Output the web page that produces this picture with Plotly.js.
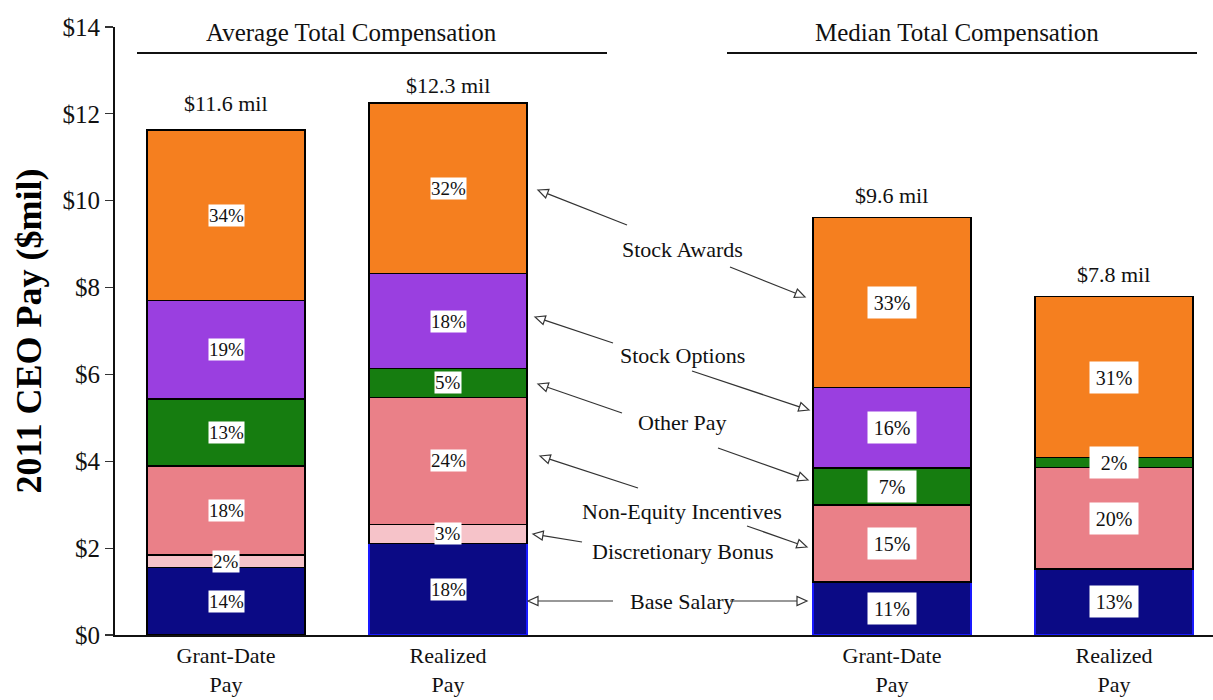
<!DOCTYPE html>
<html><head><meta charset="utf-8">
<script src="https://cdn.plot.ly/plotly-3.0.1.min.js"></script>
<style>html,body{margin:0;padding:0;background:#fff}#chart{width:1213px;height:700px}</style>
</head><body><div id="chart"></div>
<script>
// ---------- DATA ----------
const categories = ['Grant-Date<br>Pay', 'Realized<br>Pay', 'Grant-Date<br>Pay', 'Realized<br>Pay'];
const xPositions = [0, 1, 3, 4];
const componentNames = ['Base Salary', 'Discretionary Bonus', 'Non-Equity Incentives', 'Other Pay', 'Stock Options', 'Stock Awards'];
const baseSalary   = [1.55, 2.11, 1.22, 1.52];
const discBonus    = [0.29, 0.44, 0.00, 0.00];
const nonEquity    = [2.05, 2.92, 1.77, 2.34];
const otherPay     = [1.54, 0.67, 0.85, 0.23];
const stockOptions = [2.27, 2.18, 1.86, 0.00];
const stockAwards  = [3.93, 3.93, 3.91, 3.70];
const pctBase    = ['14%', '18%', '11%', '13%'];
const pctDisc    = ['2%', '3%', '', ''];
const pctNonEq   = ['18%', '24%', '15%', '20%'];
const pctOther   = ['13%', '5%', '7%', '2%'];
const pctOptions = ['19%', '18%', '16%', ''];
const pctAwards  = ['34%', '32%', '33%', '31%'];
const totalLabels = ['$11.6 mil', '$12.3 mil', '$9.6 mil', '$7.8 mil'];
const groupTitles = ['Average Total Compensation', 'Median Total Compensation'];
const yTickVals = [0, 2, 4, 6, 8, 10, 12, 14];
const yTickText = ['$0', '$2', '$4', '$6', '$8', '$10', '$12', '$14'];
const yTitle = '2011 CEO Pay ($mil)';

// ---------- STYLE ----------
const FONT = 'Liberation Serif, Times New Roman, serif';
const colors = ['#0b0a85', '#f6c3c9', '#ea8088', '#167d10', '#9a3fe0', '#f57f1f'];
const M = {l: 115, r: 0, t: 27, b: 65};
const W = 1213, H = 700;
const XR = [-0.5, 4.446], YR = [0, 14];
const plotW = W - M.l - M.r, plotH = H - M.t - M.b;
const px2x = px => XR[0] + (px - M.l) / plotW * (XR[1] - XR[0]);
const py2y = py => YR[0] + (M.t + plotH - py) / plotH * (YR[1] - YR[0]);

const series = [baseSalary, discBonus, nonEquity, otherPay, stockOptions, stockAwards];
const pcts = [pctBase, pctDisc, pctNonEq, pctOther, pctOptions, pctAwards];

const traces = series.map((vals, i) => ({
  type: 'bar', x: xPositions, y: vals, name: componentNames[i], width: 0.71,
  marker: {color: colors[i], line: {color: i === 0 ? ['#000', '#1a1aff', '#1a1aff', '#1a1aff'] : '#000', width: 1.5}},
  hoverinfo: 'skip', showlegend: false
}));

const annotations = [];
const cum = [0, 0, 0, 0];
series.forEach((vals, i) => {
  vals.forEach((v, j) => {
    const mid = cum[j] + v / 2;
    cum[j] += v;
    if (!pcts[i][j]) return;
    const median = j >= 2;
    const a = {x: xPositions[j], y: mid, xref: 'x', yref: 'y', text: pcts[i][j], showarrow: false,
      bgcolor: '#fff', font: {family: FONT, size: median ? 20 : 19, color: '#111'}, borderpad: 0};
    if (median) { a.width = 48; a.height = 31; }
    annotations.push(a);
  });
});
const totalShift = [12, 3, 8, 8];
cum.forEach((t, j) => annotations.push({x: xPositions[j], y: t, xref: 'x', yref: 'y', yanchor: 'bottom', yshift: totalShift[j],
  text: totalLabels[j], showarrow: false, font: {family: FONT, size: 22, color: '#111'}}));

// group headers
const headerCenters = [351, 957];
groupTitles.forEach((g, k) => annotations.push({x: px2x(headerCenters[k]), y: py2y(32), xref: 'x', yref: 'y', text: g,
  showarrow: false, font: {family: FONT, size: 25, color: '#111'}}));

// middle component labels
const labelPy = [601, 551, 511, 422, 355, 249];
componentNames.forEach((n, i) => annotations.push({x: px2x(682), y: py2y(labelPy[i]), xref: 'x', yref: 'y', text: n,
  showarrow: false, font: {family: FONT, size: 22, color: '#111'}}));

const shapes = [];
[[137, 607], [727, 1197]].forEach(([a, b]) => shapes.push({type: 'line', xref: 'x', yref: 'y',
  x0: px2x(a), x1: px2x(b), y0: py2y(53), y1: py2y(53), line: {color: '#111', width: 2}}));

// arrows in pixel space: [tailX, tailY, headX, headY]
const arrows = [
  [627, 225, 538, 190], [730, 267, 805, 297],
  [613, 343, 535, 317], [692, 371, 809, 410],
  [622, 413, 538, 384], [718, 448, 808, 480],
  [638, 488, 540, 456], [747, 526, 807, 547],
  [582, 542, 533, 534],
  [613, 601, 528, 601], [730, 601, 807, 601]
];
arrows.forEach(([tx, ty, hx, hy]) => {
  const dx = hx - tx, dy = hy - ty, L = Math.hypot(dx, dy);
  const ux = dx / L, uy = dy / L, nx = -uy, ny = ux;
  const hl = 10, hw = 4.5;
  const bx = hx - ux * hl, by = hy - uy * hl;
  shapes.push({type: 'line', xref: 'x', yref: 'y', x0: px2x(tx), y0: py2y(ty), x1: px2x(bx), y1: py2y(by),
    line: {color: '#333', width: 1.2}});
  const p1 = [bx + nx * hw, by + ny * hw], p2 = [bx - nx * hw, by - ny * hw];
  shapes.push({type: 'path', xref: 'x', yref: 'y',
    path: `M ${px2x(hx)} ${py2y(hy)} L ${px2x(p1[0])} ${py2y(p1[1])} L ${px2x(p2[0])} ${py2y(p2[1])} Z`,
    fillcolor: '#fff', line: {color: '#333', width: 1.2}});
});

const layout = {
  width: W, height: H, margin: M, barmode: 'stack', bargap: 0,
  paper_bgcolor: '#fff', plot_bgcolor: '#fff', showlegend: false,
  font: {family: FONT, color: '#111'},
  xaxis: {range: XR, tickvals: xPositions, ticktext: categories, showgrid: false, zeroline: false,
    showline: true, linecolor: '#111', linewidth: 2, ticks: '', ticklabelstandoff: 0,
    tickfont: {family: FONT, size: 22, color: '#111'}, fixedrange: true},
  yaxis: {range: YR, tickvals: yTickVals, ticktext: yTickText, showgrid: false, zeroline: false, showline: true,
    linecolor: '#111', linewidth: 2, ticks: 'outside', ticklen: 8, tickwidth: 1.2, tickcolor: '#333',
    tickfont: {family: FONT, size: 25, color: '#111'},
    title: {text: yTitle, font: {family: FONT, size: 36, color: '#000', weight: 'bold'}, standoff: 10}, fixedrange: true},
  annotations: annotations, shapes: shapes
};
Plotly.newPlot('chart', traces, layout, {displayModeBar: false, staticPlot: true});
</script></body></html>
